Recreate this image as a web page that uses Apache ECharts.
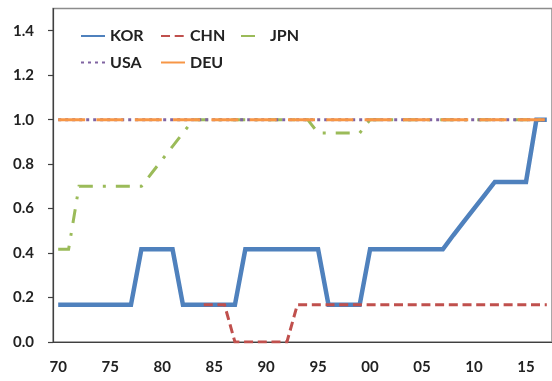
<!DOCTYPE html>
<html>
<head>
<meta charset="utf-8">
<script src="https://cdn.jsdelivr.net/npm/echarts@6/dist/echarts.min.js"></script>
<style>
html,body{margin:0;padding:0;background:#fff;}
#chart{width:552px;height:381px;}
</style>
</head>
<body>
<div id="chart"></div>
<script>
// Categories: years 1970..2017
const years = [1970,1971,1972,1973,1974,1975,1976,1977,1978,1979,
  1980,1981,1982,1983,1984,1985,1986,1987,1988,1989,
  1990,1991,1992,1993,1994,1995,1996,1997,1998,1999,
  2000,2001,2002,2003,2004,2005,2006,2007,2008,2009,
  2010,2011,2012,2013,2014,2015,2016,2017];

const KOR = [0.167,0.167,0.167,0.167,0.167,0.167,0.167,0.167,0.417,0.417,
  0.417,0.417,0.167,0.167,0.167,0.167,0.167,0.167,0.417,0.417,
  0.417,0.417,0.417,0.417,0.417,0.417,0.167,0.167,0.167,0.167,
  0.417,0.417,0.417,0.417,0.417,0.417,0.417,0.417,0.48,0.54,
  0.60,0.66,0.72,0.72,0.72,0.72,1.0,1.0];

const CHN = [null,null,null,null,null,null,null,null,null,null,
  null,null,null,null,0.167,0.167,0.167,0,0,0,
  0,0,0,0.167,0.167,0.167,0.167,0.167,0.167,0.167,
  0.167,0.167,0.167,0.167,0.167,0.167,0.167,0.167,0.167,0.167,
  0.167,0.167,0.167,0.167,0.167,0.167,0.167,0.167];

const JPN = [0.417,0.417,0.7,0.7,0.7,0.7,0.7,0.7,0.7,0.76,
  0.82,0.88,0.94,1.0,1.0,1.0,1.0,1.0,1.0,1.0,
  1.0,1.0,1.0,1.0,1.0,0.94,0.94,0.94,0.94,0.94,
  1.0,1.0,1.0,1.0,1.0,1.0,1.0,1.0,1.0,1.0,
  1.0,1.0,1.0,1.0,1.0,1.0,1.0,1.0];

const USA = [1,1,1,1,1,1,1,1,1,1, 1,1,1,1,1,1,1,1,1,1,
  1,1,1,1,1,1,1,1,1,1, 1,1,1,1,1,1,1,1,1,1, 1,1,1,1,1,1,1,1];

const DEU = [1,1,1,1,1,1,1,1,1,1, 1,1,1,1,1,1,1,1,1,1,
  1,1,1,1,1,1,1,1,1,1, 1,1,1,1,1,1,1,1,1,1, 1,1,1,1,1,1,1,1];

const yTicks = [0, 0.2, 0.4, 0.6, 0.8, 1.0, 1.2, 1.4];
const seriesNames = ['KOR','CHN','JPN','USA','DEU'];

const FONT = 'Lato';
const chart = echarts.init(document.getElementById('chart'), null, {renderer:'canvas'});

function mk(name, data, color, width, type, z) {
  return {
    name: name, type: 'line', data: data, symbol: 'none', z: z,
    connectNulls: false, animation: false,
    lineStyle: {color: color, width: width, type: type, cap: 'butt', join: 'miter'},
    itemStyle: {color: color}
  };
}

const legendCommon = {
  left: 75, itemWidth: 24, itemHeight: 14, itemGap: 4,
  itemStyle: {color: 'rgba(0,0,0,0)', borderWidth: 0, opacity: 0},
  textStyle: {fontFamily: FONT, fontWeight: 'bold', fontSize: 16, color: '#222', width: 46, lineHeight: 16},
  selectedMode: false
};

chart.setOption({
  animation: false,
  grid: {left: 53, right: -4, top: 8.5, bottom: 39, show: true, borderColor: '#8c8c8c', borderWidth: 1.5, backgroundColor: 'transparent'},
  legend: [
    Object.assign({}, legendCommon, {top: 23, data: seriesNames.slice(0,3)}),
    Object.assign({}, legendCommon, {top: 49.5, data: seriesNames.slice(3)})
  ],
  xAxis: {
    type: 'category', data: years, boundaryGap: true,
    axisLine: {lineStyle: {color: '#404040', width: 1.2}},
    axisTick: {interval: 4, length: 5, lineStyle: {color: '#404040', width: 1.2}},
    axisLabel: {interval: 4, margin: 18, fontFamily: FONT, fontWeight: 'bold', fontSize: 15, color: '#222',
      formatter: v => String(v).slice(2)},
    splitLine: {show: false}
  },
  yAxis: {
    type: 'value', min: 0, max: 1.5, interval: 0.1,
    axisLine: {show: true, lineStyle: {color: '#404040', width: 1.2}},
    axisTick: {show: true, length: 5, customValues: yTicks, lineStyle: {color: '#404040', width: 1.2}},
    axisLabel: {margin: 19, customValues: yTicks, fontFamily: FONT, fontWeight: 'bold', fontSize: 15, color: '#222',
      formatter: v => v.toFixed(1)},
    splitLine: {show: false}
  },
  series: [
    mk('KOR', KOR, '#4F81BD', 4.5, 'solid', 2),
    mk('CHN', CHN, '#C0504D', 3, [9, 4.7], 3),
    mk('JPN', JPN, '#9BBB59', 3, [14, 10, 3, 10], 4),
    mk('USA', USA, '#8064A2', 3, [3, 4], 5),
    mk('DEU', DEU, '#F79646', 3, [27, 11.3], 6)
  ]
});
</script>
</body>
</html>
